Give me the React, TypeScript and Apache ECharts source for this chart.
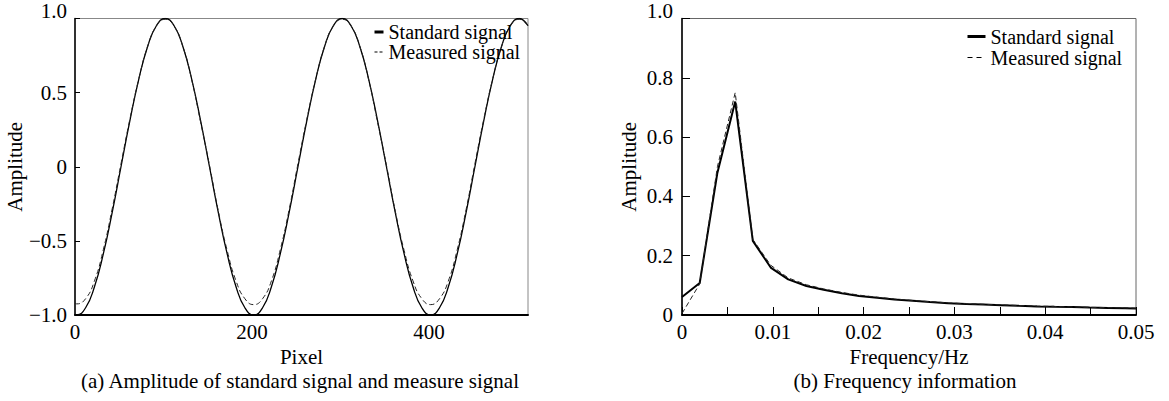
import React, { useEffect, useRef } from 'react';
import * as echarts from 'echarts';

const FONT = '"Liberation Serif", "Times New Roman", Times, serif';

// (a) Amplitude vs pixel
const pixelX = [0, 2, 12, 22, 32, 42, 52, 62, 72, 82, 92, 102, 112, 122, 132, 142, 152, 162, 172, 182, 192, 202, 212, 222, 232, 242, 252, 262, 272, 282, 292, 302, 312, 322, 332, 342, 352, 362, 372, 382, 392, 402, 412, 422, 432, 442, 452, 462, 472, 482, 492, 502, 512];
const standardAmp = [-0.998, -1, -0.951, -0.809, -0.588, -0.309, 0, 0.309, 0.588, 0.809, 0.951, 1, 0.951, 0.809, 0.588, 0.309, 0, -0.309, -0.588, -0.809, -0.951, -1, -0.951, -0.809, -0.588, -0.309, 0, 0.309, 0.588, 0.809, 0.951, 1, 0.951, 0.809, 0.588, 0.309, 0, -0.309, -0.588, -0.809, -0.951, -1, -0.951, -0.809, -0.588, -0.309, 0, 0.309, 0.588, 0.809, 0.951, 1, 0.951];
const measuredAmp = [-0.92, -0.925, -0.89, -0.77, -0.56, -0.285, 0.02, 0.32, 0.59, 0.81, 0.95, 0.995, 0.95, 0.81, 0.585, 0.3, 0.01, -0.3, -0.565, -0.77, -0.89, -0.93, -0.89, -0.77, -0.56, -0.29, 0.02, 0.32, 0.59, 0.81, 0.95, 0.995, 0.95, 0.81, 0.585, 0.3, 0.01, -0.3, -0.565, -0.77, -0.89, -0.93, -0.89, -0.77, -0.56, -0.29, 0.02, 0.32, 0.59, 0.81, 0.95, 0.995, 0.95];

// (b) Frequency information
const freqX = [0, 0.00195, 0.0039, 0.00586, 0.0078, 0.00977, 0.0117, 0.0137, 0.0156, 0.0176, 0.0195, 0.0215, 0.0234, 0.0254, 0.0273, 0.0293, 0.0313, 0.0332, 0.0352, 0.0371, 0.0391, 0.041, 0.043, 0.0449, 0.0469, 0.0488, 0.05];
const standardSpec = [0.061, 0.108, 0.48, 0.72, 0.25, 0.16, 0.12, 0.098, 0.085, 0.073, 0.064, 0.058, 0.052, 0.048, 0.044, 0.04, 0.037, 0.035, 0.033, 0.031, 0.029, 0.028, 0.027, 0.025, 0.024, 0.023, 0.022];
const measuredSpec = [0.005, 0.105, 0.5, 0.75, 0.255, 0.168, 0.125, 0.102, 0.088, 0.076, 0.067, 0.06, 0.054, 0.049, 0.045, 0.041, 0.038, 0.036, 0.034, 0.032, 0.03, 0.029, 0.027, 0.026, 0.025, 0.024, 0.023];

const seriesNames = ['Standard signal', 'Measured signal'];
const captions = ['(a) Amplitude of standard signal and measure signal', '(b) Frequency information'];

const labelStyle = { fontFamily: FONT, fontSize: 21, color: '#000', lineHeight: 21 };
const richTop = { top: { fontFamily: FONT, fontSize: 21, color: '#000', lineHeight: 21, padding: [0, 0, 16, 0] } };
const hiddenSymbol = { color: 'rgba(0,0,0,0)', opacity: 0, borderWidth: 0 };

const fmtAmp = (v: number) => {
  if (Math.abs(v - 1) < 1e-9) return '{top|1.0}';
  if (Math.abs(v) < 1e-9) return '0';
  const s = Math.abs(v).toFixed(1);
  return v < 0 ? '\u2212' + s : s;
};
const fmtSpecY = (v: number) => {
  if (Math.abs(v - 1) < 1e-9) return '{top|1.0}';
  if (Math.abs(v) < 1e-9) return '0';
  return v.toFixed(1);
};
const fmtFreq = (v: number) => {
  const r = Math.round(v * 1000);
  if (r % 10 !== 0) return '';
  if (r === 0) return '0';
  return (r / 1000).toFixed(2);
};

export default function App() {
  const ref = useRef<HTMLDivElement>(null);
  useEffect(() => {
    const chart = echarts.init(ref.current!, null, { renderer: 'svg' });
    const option = {
      animation: false,
      backgroundColor: '#fff',
      textStyle: { fontFamily: FONT },
      grid: [
        { left: 75, top: 15, width: 453, height: 300, show: true, borderColor: '#888', borderWidth: 1 },
        { left: 682, top: 15, width: 454, height: 300, show: true, borderColor: '#666', borderWidth: 1 },
      ],
      legend: [
        {
          orient: 'vertical', left: 373, top: 22, padding: 0, itemGap: 0, itemWidth: 9, itemHeight: 14,
          textStyle: { fontFamily: FONT, fontSize: 20, color: '#000', lineHeight: 20 },
          data: [
            { name: seriesNames[0], itemStyle: hiddenSymbol, lineStyle: { color: '#000', width: 3, type: 'solid' } },
            { name: seriesNames[1], itemStyle: hiddenSymbol, lineStyle: { color: '#000', width: 1.2, type: [3, 2] } },
          ],
        },
        {
          orient: 'vertical', left: 966, top: 26, padding: 0, itemGap: 0, itemWidth: 18, itemHeight: 14,
          textStyle: { fontFamily: FONT, fontSize: 20, color: '#000', lineHeight: 21 },
          data: [
            { name: seriesNames[0], itemStyle: hiddenSymbol, lineStyle: { color: '#000', width: 3, type: 'solid' } },
            { name: seriesNames[1], itemStyle: hiddenSymbol, lineStyle: { color: '#000', width: 1.2, type: [5, 4] } },
          ],
        },
      ],
      xAxis: [
        {
          type: 'value', gridIndex: 0, min: 0, max: 512, interval: 200,
          axisLine: { show: true, onZero: false, lineStyle: { color: '#000', width: 2 } },
          axisTick: { show: false },
          splitLine: { show: false },
          axisLabel: { ...labelStyle, margin: 6, showMaxLabel: false },
          name: 'Pixel', nameLocation: 'middle', nameGap: 25,
          nameTextStyle: labelStyle,
        },
        {
          type: 'value', gridIndex: 1, min: 0, max: 0.05, interval: 0.005,
          axisLine: { show: true, onZero: false, lineStyle: { color: '#000', width: 2 } },
          axisTick: { show: true, inside: true, length: 8, lineStyle: { color: '#000', width: 1 } },
          splitLine: { show: false },
          axisLabel: { ...labelStyle, margin: 6, formatter: fmtFreq },
          name: 'Frequency/Hz', nameLocation: 'middle', nameGap: 25,
          nameTextStyle: labelStyle,
        },
      ],
      yAxis: [
        {
          type: 'value', gridIndex: 0, min: -1, max: 1, interval: 0.5,
          axisLine: { show: true, onZero: false, lineStyle: { color: '#000', width: 1.5 } },
          axisTick: { show: true, inside: true, length: 5, lineStyle: { color: '#000', width: 1 } },
          splitLine: { show: false },
          axisLabel: { ...labelStyle, margin: 8, formatter: fmtAmp, rich: richTop },
          name: 'Amplitude', nameLocation: 'middle', nameGap: 43, nameRotate: 90,
          nameTextStyle: labelStyle,
        },
        {
          type: 'value', gridIndex: 1, min: 0, max: 1, interval: 0.2,
          axisLine: { show: true, onZero: false, lineStyle: { color: '#000', width: 1.5 } },
          axisTick: { show: true, inside: true, length: 8, lineStyle: { color: '#000', width: 1 } },
          splitLine: { show: false },
          axisLabel: { ...labelStyle, margin: 9, formatter: fmtSpecY, rich: richTop },
          name: 'Amplitude', nameLocation: 'middle', nameGap: 43, nameRotate: 90,
          nameTextStyle: labelStyle,
        },
      ],
      series: [
        {
          type: 'line', name: seriesNames[0], xAxisIndex: 0, yAxisIndex: 0,
          data: pixelX.map((x, i) => [x, standardAmp[i]]),
          smooth: true, symbol: 'none', showSymbol: false,
          lineStyle: { color: '#000', width: 1.3 }, itemStyle: { color: '#000' },
        },
        {
          type: 'line', name: seriesNames[1], xAxisIndex: 0, yAxisIndex: 0,
          data: pixelX.map((x, i) => [x, measuredAmp[i]]),
          smooth: true, symbol: 'none', showSymbol: false,
          lineStyle: { color: '#222', width: 1, type: [5, 3] }, itemStyle: { color: '#000' },
        },
        {
          type: 'line', name: seriesNames[0], xAxisIndex: 1, yAxisIndex: 1,
          data: freqX.map((x, i) => [x, standardSpec[i]]),
          symbol: 'none', showSymbol: false,
          lineStyle: { color: '#000', width: 2 }, itemStyle: { color: '#000' },
        },
        {
          type: 'line', name: seriesNames[1], xAxisIndex: 1, yAxisIndex: 1,
          data: freqX.map((x, i) => [x, measuredSpec[i]]),
          symbol: 'none', showSymbol: false,
          lineStyle: { color: '#222', width: 1, type: [5, 3] }, itemStyle: { color: '#000' },
        },
      ],
      graphic: [
        { type: 'text', x: 300, y: 381, style: { text: captions[0], font: `21px ${FONT}`, fill: '#000', align: 'center', verticalAlign: 'middle' } },
        { type: 'text', x: 905, y: 381, style: { text: captions[1], font: `21px ${FONT}`, fill: '#000', align: 'center', verticalAlign: 'middle' } },
      ],
    };
    chart.setOption(option as any);
    return () => chart.dispose();
  }, []);
  return (
    <div
      ref={ref}
      style={{ position: 'absolute', left: 0, top: 0, width: 1169, height: 401, background: '#fff' }}
    />
  );
}
